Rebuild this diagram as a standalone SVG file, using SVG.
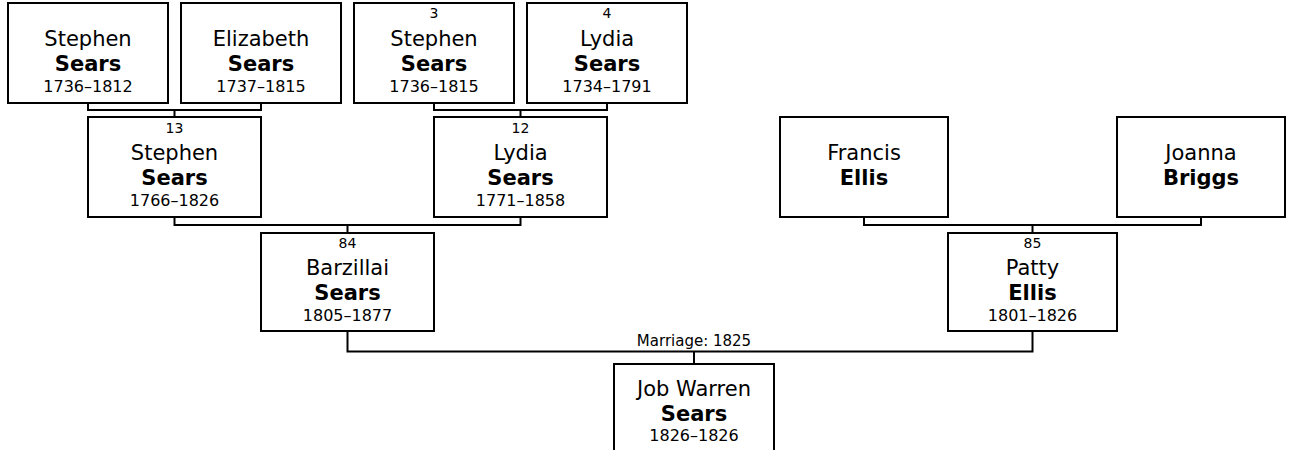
<svg xmlns="http://www.w3.org/2000/svg" width="1299" height="450" viewBox="0 0 1299 450">
<style>
.box{fill:#fff;stroke:#000;stroke-width:2}
.con{fill:none;stroke:#000;stroke-width:2}
text{font-family:"DejaVu Sans",Verdana,sans-serif;fill:#000;text-anchor:middle}
.num{font-size:14px}
.name{font-size:21px}
.sur{font-size:21px;font-weight:bold}
.date{font-size:16px}
.lbl{font-size:15px}
</style>
<rect width="1299" height="450" fill="#fff"/>
<g id="connectors">
<path class="con" d="M88 103V110H261V103M174.5 110V117"/>
<path class="con" d="M434 103V110H607V103M520.5 110V117"/>
<path class="con" d="M174.5 217V225H520.5V217M347.5 225V233"/>
<path class="con" d="M864 217V225H1201V217M1032.5 225V233"/>
<path class="con" d="M347.5 331V351.5H1032.5V331M694 351.5V364"/>
<text class="lbl" x="694" y="346">Marriage: 1825</text>
</g>
<g id="n-stephen-1736">
<rect class="box" x="8" y="3" width="160" height="100"/>
<text class="name" x="88" y="46">Stephen</text>
<text class="sur" x="88" y="71">Sears</text>
<text class="date" x="88" y="92">1736–1812</text>
</g>
<g id="n-elizabeth">
<rect class="box" x="181" y="3" width="160" height="100"/>
<text class="name" x="261" y="46">Elizabeth</text>
<text class="sur" x="261" y="71">Sears</text>
<text class="date" x="261" y="92">1737–1815</text>
</g>
<g id="n-3">
<rect class="box" x="354" y="3" width="160" height="100"/>
<text class="num" x="434" y="18">3</text>
<text class="name" x="434" y="46">Stephen</text>
<text class="sur" x="434" y="71">Sears</text>
<text class="date" x="434" y="92">1736–1815</text>
</g>
<g id="n-4">
<rect class="box" x="527" y="3" width="160" height="100"/>
<text class="num" x="607" y="18">4</text>
<text class="name" x="607" y="46">Lydia</text>
<text class="sur" x="607" y="71">Sears</text>
<text class="date" x="607" y="92">1734–1791</text>
</g>
<g id="n-13">
<rect class="box" x="88" y="117" width="173" height="100"/>
<text class="num" x="174.5" y="133">13</text>
<text class="name" x="174.5" y="160">Stephen</text>
<text class="sur" x="174.5" y="185">Sears</text>
<text class="date" x="174.5" y="206">1766–1826</text>
</g>
<g id="n-12">
<rect class="box" x="434" y="117" width="173" height="100"/>
<text class="num" x="520.5" y="133">12</text>
<text class="name" x="520.5" y="160">Lydia</text>
<text class="sur" x="520.5" y="185">Sears</text>
<text class="date" x="520.5" y="206">1771–1858</text>
</g>
<g id="n-francis">
<rect class="box" x="780" y="117" width="168" height="100"/>
<text class="name" x="864" y="160">Francis</text>
<text class="sur" x="864" y="185">Ellis</text>
</g>
<g id="n-joanna">
<rect class="box" x="1117" y="117" width="168" height="100"/>
<text class="name" x="1201" y="160">Joanna</text>
<text class="sur" x="1201" y="185">Briggs</text>
</g>
<g id="n-84">
<rect class="box" x="261" y="233" width="173" height="98"/>
<text class="num" x="347.5" y="248">84</text>
<text class="name" x="347.5" y="275">Barzillai</text>
<text class="sur" x="347.5" y="300">Sears</text>
<text class="date" x="347.5" y="321">1805–1877</text>
</g>
<g id="n-85">
<rect class="box" x="948" y="233" width="169" height="98"/>
<text class="num" x="1032.5" y="248">85</text>
<text class="name" x="1032.5" y="275">Patty</text>
<text class="sur" x="1032.5" y="300">Ellis</text>
<text class="date" x="1032.5" y="321">1801–1826</text>
</g>
<g id="n-job">
<rect class="box" x="614" y="364" width="160" height="110"/>
<text class="name" x="694" y="396">Job Warren</text>
<text class="sur" x="694" y="421">Sears</text>
<text class="date" x="694" y="441">1826–1826</text>
</g>
</svg>
